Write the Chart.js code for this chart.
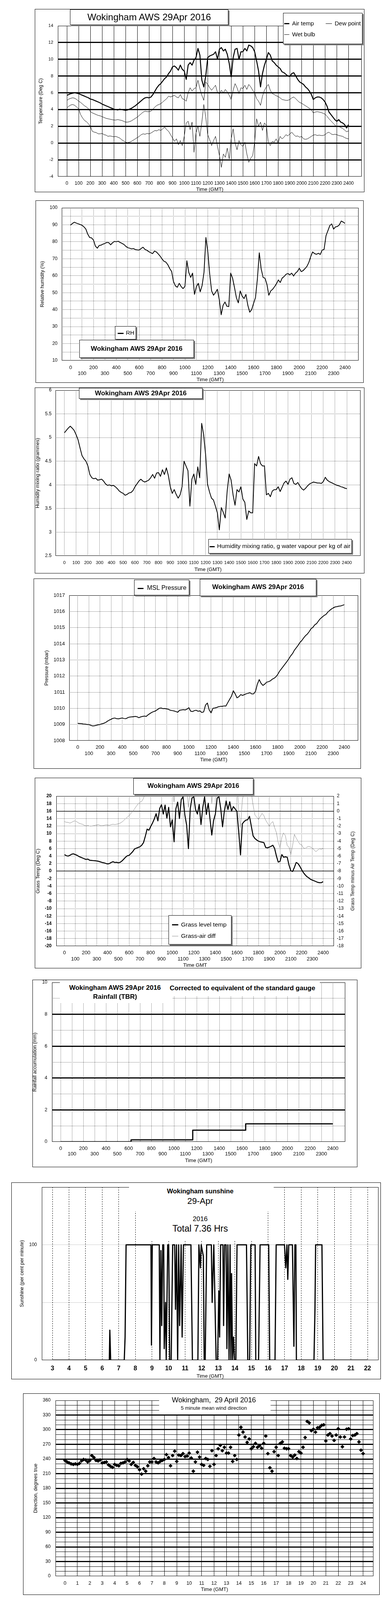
<!DOCTYPE html>
<html>
<head>
<meta charset="utf-8">
<title>Wokingham AWS 29 April 2016</title>
<script src="https://cdn.jsdelivr.net/npm/chart.js@4.4.1/dist/chart.umd.min.js"></script>
<style>
  body { margin: 0; background: #fff; width: 1000px; height: 5000px; position: relative; overflow: hidden;
         font-family: 'Liberation Sans', Arial, sans-serif; }
  .box { position: absolute; box-sizing: border-box; border: 1px solid #000; background: #fff; }
  .box canvas { display: block; }
  .panel { position: absolute; box-sizing: border-box; background: #fff; }
  .panel.framed { border: 1px solid #000; box-shadow: 3px 3px 0 #808080; }
  .note { position: absolute; white-space: pre; color: #000; line-height: 1.15; }
  .swatch { position: absolute; }
</style>
</head>
<body>
<div class="box" id="tempBox"><canvas></canvas></div>
<div class="box" id="rhBox"><canvas></canvas></div>
<div class="box" id="mixBox"><canvas></canvas></div>
<div class="box" id="pressBox"><canvas></canvas></div>
<div class="box" id="grassBox"><canvas></canvas></div>
<div class="box" id="rainBox"><canvas></canvas></div>
<div class="box" id="sunBox"><canvas></canvas></div>
<div class="box" id="dirBox"><canvas></canvas></div>
<div class="box" id="speedBox"><canvas></canvas></div>
<script>
const FONT = "'Liberation Sans', Arial, sans-serif";

// ---- ticks ----
const hhmmTicks = [0, 100, 200, 300, 400, 500, 600, 700, 800, 900, 1000, 1100, 1200,
  1300, 1400, 1500, 1600, 1700, 1800, 1900, 2000, 2100, 2200, 2300, 2400];
const tempTicks = [-4, -2, 0, 2, 4, 6, 8, 10, 12, 14];
const rhTicks = [10, 15, 20, 25, 30, 35, 40, 45, 50, 55, 60, 65, 70, 75, 80, 85, 90, 95, 100];
const mixTicks = [2.5, 3, 3.5, 4, 4.5, 5, 5.5, 6];
const pressTicks = [1008, 1009, 1010, 1011, 1012, 1013, 1014, 1015, 1016, 1017];
const grassTicks = [-20, -18, -16, -14, -12, -10, -8, -6, -4, -2, 0, 2, 4, 6, 8, 10, 12, 14, 16, 18, 20];
const diffTicks = [-18, -17, -16, -15, -14, -13, -12, -11, -10, -9, -8, -7, -6, -5, -4, -3, -2, -1, 0, 1, 2];
const rainTicks = [0, 1, 2, 3, 4, 5, 6, 7, 8, 9, 10];
const sunTicks = [0, 50, 100, 150];
const sunHourTicks = [3, 4, 5, 6, 7, 8, 9, 10, 11, 12, 13, 14, 15, 16, 17, 18, 19, 20, 21, 22];
const dirTicks = [0, 10, 20, 30, 40, 50, 60, 70, 80, 90, 100, 110, 120, 130, 140, 150, 160, 170, 180,
  190, 200, 210, 220, 230, 240, 250, 260, 270, 280, 290, 300, 310, 320, 330, 340, 350, 360];
const dayHourTicks = [0, 1, 2, 3, 4, 5, 6, 7, 8, 9, 10, 11, 12, 13, 14, 15, 16, 17, 18, 19, 20, 21, 22, 23, 24];
const clockLabels = ['00:00', '01:00', '02:00', '03:00', '04:00', '05:00', '06:00', '07:00', '08:00',
  '09:00', '10:00', '11:00', '12:00', '13:00', '14:00', '15:00', '16:00', '17:00', '18:00', '19:00',
  '20:00', '21:00', '22:00', '23:00', ''];
const speedTicks = [0, 5, 10, 15, 20, 25, 30, 35, 40, 45, 50];

// ---- data, 10 minute readings 00:00 .. 24:00 (one row per hour) ----
const airTemp = [
  5.7, 5.8, 5.9, 5.95, 6.0, 5.95,
  5.9, 5.8, 5.7, 5.6, 5.5, 5.4,
  5.25, 5.2, 5.1, 5.0, 4.9, 4.8,
  4.65, 4.55, 4.45, 4.35, 4.25, 4.15,
  4.05, 4.0, 3.95, 4.05, 4.0, 3.95,
  3.9, 3.95, 4.05, 4.15, 4.3, 4.45,
  4.65, 4.85, 5.05, 5.25, 5.4, 5.45,
  5.4, 5.5, 5.8, 6.2, 6.6, 6.9,
  7.1, 7.4, 7.7, 7.9, 8.3, 8.6,
  9.1, 9.2, 9.0, 8.7, 9.3, 8.8,
  8.6, 7.6, 9.3, 9.6, 9.3, 9.9,
  10.2, 11.3, 10.5, 7.5, 6.7, 8.0,
  10.2, 10.4, 10.5, 10.6, 10.9, 10.0,
  11.2, 11.4, 11.0, 11.2, 10.6, 9.5,
  7.9, 10.2, 11.2, 11.3, 10.0, 10.9,
  10.9, 11.3, 11.0, 11.7, 11.6, 11.4,
  10.9, 9.8, 8.6, 6.7, 8.3, 9.3,
  10.0, 10.8, 10.5, 9.8, 9.6, 9.3,
  9.1, 8.9, 8.5, 8.4, 8.2, 8.0,
  7.95, 8.3, 8.4, 8.0, 7.6, 7.3,
  7.15, 7.0, 6.7, 6.5, 6.2, 5.8,
  5.2, 5.4, 5.5, 5.5, 5.4, 5.2,
  4.9, 4.4, 3.7, 3.4, 3.1, 2.8,
  2.6, 2.8, 2.5, 2.4, 2.2, 1.8,
  2.2];
const wetBulb = [
  5.1, 5.25, 5.35, 5.4, 5.35, 5.2,
  5.0, 4.85, 4.65, 4.45, 4.3, 4.1,
  3.75, 3.6, 3.5, 3.4, 3.3, 3.25,
  3.15, 3.05, 2.95, 2.9, 2.85, 2.8,
  2.75, 2.75, 2.8, 2.75, 2.7, 2.6,
  2.5, 2.5, 2.55, 2.65, 2.8, 2.95,
  3.1, 3.3, 3.5, 3.7, 3.8, 3.75,
  3.75, 3.8, 4.05, 4.3, 4.5, 4.6,
  4.7, 4.9, 5.1, 5.3, 5.6, 5.5,
  5.6, 5.7, 5.5, 5.4, 5.8, 5.3,
  5.2, 5.0, 6.0, 6.6, 6.2, 6.5,
  6.6, 7.5, 6.5, 5.7, 5.1, 7.3,
  7.0, 6.6, 6.3, 6.6, 6.9, 6.0,
  5.9, 6.3, 6.0, 6.4, 6.1, 5.7,
  5.2, 6.3, 7.1, 6.6, 5.9, 6.6,
  6.5, 6.9, 6.4, 7.0, 6.7, 6.3,
  6.0, 5.3, 5.0, 4.5, 5.6, 6.3,
  6.7, 7.0, 6.3, 5.9, 5.8, 5.65,
  5.55, 5.4, 5.2, 5.15, 5.1, 5.1,
  5.2, 5.4, 5.5, 5.3, 5.05, 4.85,
  4.75, 4.6, 4.45, 4.3, 4.15, 3.95,
  3.6, 3.7, 3.75, 3.7, 3.65, 3.55,
  3.45, 3.2, 2.9, 2.65, 2.4, 2.15,
  1.95, 2.0, 1.85, 1.75, 1.55, 1.35,
  1.45];
const dewPoint = [
  4.2, 4.4, 4.55, 4.6, 4.5, 4.3,
  4.1, 3.4, 3.0, 2.7, 2.55, 2.3,
  2.0, 1.4, 1.3, 1.25, 1.1, 1.1,
  1.15, 1.0, 0.95, 0.8, 0.85, 0.8,
  0.75, 0.8, 0.7, 0.6, 0.4, 0.25,
  0.1, 0.05, 0.1, 0.2, 0.35, 0.5,
  0.65, 0.8, 1.0, 1.1, 1.05, 1.15,
  1.1, 1.2, 1.35, 1.5, 1.45, 1.6,
  1.5, 1.7, 1.9, 1.6, 1.4, 1.0,
  0.6, 0.2, 0.5, -0.2, 0.3, -0.3,
  0.8, 2.4, 2.6, 1.6, 2.5, -1.1,
  1.2, 2.0, 0.8, 2.5, 4.6, 3.1,
  1.0, 0.4, -0.3, 0.3, 0.8, -0.4,
  -1.5, -2.9, -1.3, -1.7, -0.6, -1.9,
  0.5, 1.7, 0.0, -0.8, 0.3, -0.2,
  -0.4, 0.1, -1.3, -2.3, -1.8, -1.5,
  0.1, 2.9, 2.0, 2.5, 1.5, 2.4,
  2.1, 0.0, -0.3, 0.2, 0.1, 0.5,
  0.0, 0.8, 0.5, 0.7, 1.0, 0.85,
  1.1, 1.3, 1.0, 0.8, 0.85, 0.7,
  0.8, 0.5, 0.45, 0.5, 0.65, 0.8,
  0.95, 1.0, 0.9, 0.95, 0.9, 0.9,
  1.0, 1.2, 1.3, 1.1, 1.0, 1.05,
  1.0, 0.9, 0.85, 0.8, 0.65, 0.55,
  0.5];
const relHumidity = [
  89.8, 90.8, 91.5, 91.0, 90.6, 90.2,
  89.7, 88.8, 87.5, 84.5, 82.5, 82.3,
  81.0, 77.5, 76.2, 77.8, 78.0, 78.6,
  79.0, 79.6, 79.5, 78.2, 79.4, 80.2,
  80.0, 80.3, 79.6, 79.0, 78.4, 77.3,
  76.5, 76.2, 75.8, 76.0, 75.4, 75.2,
  75.1, 76.0, 76.8, 75.5, 75.0, 74.2,
  73.6, 73.0, 74.5, 74.0, 72.8, 71.5,
  69.8, 68.5, 68.0, 66.5, 64.2, 62.5,
  56.5, 54.0, 53.2, 55.5, 53.6, 52.4,
  53.7, 68.8, 62.0, 59.0, 61.5, 49.0,
  53.5, 55.5, 50.5, 54.2, 62.0, 82.5,
  74.0, 60.8, 51.0, 48.5, 50.0, 52.0,
  46.0, 37.0, 42.5, 44.5, 42.0, 41.8,
  61.5, 58.5, 53.0, 47.0, 44.0, 51.0,
  48.0, 46.5, 49.0, 42.5, 38.5, 40.0,
  43.7, 47.0, 58.0, 73.5, 64.0, 59.0,
  58.5, 55.0, 48.5, 51.0, 52.0, 53.5,
  55.2, 57.5, 56.0, 58.6, 59.5, 60.8,
  61.3, 60.5, 61.5, 59.8, 61.5, 62.5,
  64.4, 62.4, 63.0, 64.2, 65.5, 67.8,
  71.3, 74.0, 73.0, 72.6, 73.2, 72.5,
  75.1, 75.5, 83.5, 86.5, 89.5, 90.5,
  87.4, 88.8, 89.0, 90.0, 92.2, 91.6,
  90.8];
const mixingRatio = [
  5.10, 5.15, 5.20, 5.24, 5.20, 5.15,
  5.06, 4.95, 4.78, 4.62, 4.55, 4.50,
  4.40, 4.22, 4.15, 4.13, 4.14, 4.10,
  4.11, 4.12, 4.08, 4.02, 3.99, 4.00,
  3.98, 3.99, 3.96, 3.92, 3.87, 3.84,
  3.82, 3.78, 3.80, 3.83, 3.84, 3.88,
  3.96, 4.02, 4.08, 4.12, 4.08, 4.06,
  4.08, 4.10, 4.15, 4.22, 4.14, 4.25,
  4.26, 4.18, 4.32, 4.22, 4.36, 4.20,
  3.96, 3.82, 3.90, 3.80, 3.72, 3.79,
  3.96, 4.50, 4.40, 4.30, 3.55, 4.12,
  4.23, 4.01, 4.38, 4.15, 5.30, 5.06,
  4.64, 4.01, 3.85, 3.72, 3.68, 3.55,
  3.41, 3.05, 3.52, 3.42, 3.30, 3.87,
  4.23, 4.10, 3.79, 3.57, 3.90, 3.85,
  3.96, 3.70, 3.63, 3.27, 3.45, 3.41,
  3.41, 4.45, 4.40, 4.60, 4.45, 4.40,
  4.40, 3.79, 3.82, 3.75, 3.87, 3.90,
  3.90, 3.96, 3.86, 3.95, 4.04, 4.08,
  4.01, 4.12, 4.15, 4.03, 4.01, 4.05,
  3.98, 3.92, 3.89, 3.93, 3.98, 4.02,
  4.04, 4.06, 4.05, 4.04, 4.04, 4.03,
  4.07, 4.16, 4.10, 4.07, 4.05, 4.03,
  4.01, 3.99, 3.98, 3.96, 3.95, 3.93,
  3.92];
const mslPressure = [
  1009.07, 1009.06, 1009.05, 1009.03, 1009.02, 1009.0,
  1009.0, 1008.95, 1008.91, 1008.92, 1008.95, 1008.98,
  1009.0, 1009.04, 1009.07, 1009.12, 1009.2, 1009.27,
  1009.32, 1009.38, 1009.4, 1009.36, 1009.35, 1009.38,
  1009.4, 1009.37, 1009.36, 1009.42, 1009.46, 1009.47,
  1009.48, 1009.5, 1009.48, 1009.42, 1009.47, 1009.5,
  1009.52, 1009.5, 1009.6, 1009.68, 1009.75, 1009.8,
  1009.84, 1009.92, 1010.0, 1010.02, 1009.98, 1009.99,
  1009.96, 1009.94, 1009.88, 1009.86, 1009.84, 1009.8,
  1009.76, 1009.88, 1009.9, 1009.92, 1009.9, 1009.95,
  1010.04, 1009.82, 1009.8, 1009.86, 1009.88, 1009.82,
  1009.84, 1009.74, 1009.78, 1010.2, 1010.33, 1009.9,
  1009.72, 1010.0, 1010.02, 1010.05, 1010.1, 1010.12,
  1010.12, 1010.15, 1010.14, 1010.35, 1010.55, 1010.75,
  1011.09, 1010.9, 1010.65, 1010.72, 1010.85, 1010.8,
  1010.85, 1010.9, 1010.93, 1010.97, 1010.89, 1010.9,
  1011.05, 1011.5, 1011.78, 1011.55, 1011.42, 1011.5,
  1011.62, 1011.65, 1011.7, 1011.8, 1011.86, 1011.95,
  1012.1, 1012.3, 1012.45, 1012.6, 1012.75, 1012.9,
  1013.07, 1013.25, 1013.39, 1013.6, 1013.75, 1013.9,
  1014.08, 1014.2, 1014.36, 1014.5, 1014.6, 1014.75,
  1014.93, 1015.02, 1015.17, 1015.25, 1015.41, 1015.55,
  1015.65, 1015.75, 1015.81, 1015.95, 1016.06, 1016.15,
  1016.22, 1016.28, 1016.3, 1016.33, 1016.34, 1016.38,
  1016.42];
const grassTemp = [
  4.4, 4.1, 4.0, 4.2, 4.5, 4.6,
  4.4, 4.2, 3.9, 3.7, 3.5, 3.3,
  3.1, 3.2, 2.9, 2.85, 2.8, 2.75,
  2.7, 2.6, 2.45, 2.3, 2.2, 2.05,
  1.9, 2.0, 2.3, 2.5, 2.3, 2.35,
  2.2, 2.35, 2.7, 3.2, 3.7, 4.1,
  4.2, 4.7, 5.2, 5.9, 6.1, 6.3,
  6.5, 6.9, 7.6, 9.3, 11.2, 10.9,
  11.9, 12.8, 13.9, 15.3, 13.4, 16.7,
  17.7, 15.2, 17.6, 14.1, 17.0, 11.8,
  13.7, 7.8, 16.6, 18.4, 14.0, 19.1,
  19.8, 15.0, 12.3, 6.0, 16.6, 19.5,
  19.8, 16.4, 15.2, 17.8, 12.4, 17.0,
  19.8, 15.1, 18.1, 14.0, 9.6, 13.5,
  15.2, 19.5, 19.8, 16.6, 11.8, 16.0,
  18.7, 16.4, 18.5, 16.0, 17.2, 16.6,
  15.9, 10.5, 4.3, 12.6, 13.2, 13.6,
  13.7, 14.6, 12.0, 9.4, 8.7, 8.3,
  8.0, 7.8, 7.7, 7.6, 6.3, 6.2,
  6.4, 6.6, 6.9, 6.0, 4.0, 2.4,
  2.6, 4.4, 3.7, 3.8, 3.7, 1.6,
  0.1, -0.1, 1.0, 2.3, 2.0, 1.3,
  0.4, -0.4, -1.0, -1.5, -1.8, -2.2,
  -2.4, -2.6, -2.8, -3.0, -3.1, -3.1,
  -2.8];
const grassAirDiff = [
  -1.4, -1.5, -1.5, -1.6, -1.5, -1.35,
  -1.3, -1.45, -1.6, -1.7, -1.75, -1.9,
  -1.95, -1.9, -2.0, -2.0, -1.95, -1.9,
  -1.85, -1.8, -1.95, -1.95, -1.9, -1.85,
  -1.85, -1.9, -1.8, -1.75, -1.8, -1.75,
  -1.7, -1.6, -1.45, -1.25, -1.0, -0.8,
  -0.6, -0.3, -0.05, 0.3, 0.65, 0.95,
  1.2, 1.3, 1.7, 2.5, 3.5, 4.5,
  5, 5.5, 6, 6, 6.5, 7,
  7, 6, 7, 5, 6, 3,
  3.5, 1.2, 5, 6, 4, 6,
  7, 5, 3, 0.5, 3, 6,
  7, 5, 4, 6, 3, 7,
  6, 5, 6, 4, 1.0, 4,
  6, 7, 5, 3, 6, 5,
  6, 5, 6, 4, 5, 5,
  4.5, -0.2, -2.2, 1.5, 2.5, 4,
  4, 3, 2.5, 0.8, -0.5, -0.8,
  -1.1, -0.7, -0.3, -0.6, -1.2, -1.6,
  -2.0, -1.6, -1.4, -2.2, -2.9, -4.2,
  -4.9, -3.5, -2.9, -3.3, -4.6, -4.8,
  -5.8, -4.6, -3.1, -3.6, -4.0, -4.4,
  -4.5, -4.9, -5.0, -4.8, -4.7, -4.8,
  -4.9, -5.2, -5.4, -5.2, -5.0, -5.1,
  -4.9];
const windDir = [
  237, 234, 232, 230, 229, 230,
  229, 231, 236, 239, 238, 234,
  237, 247, 243, 237, 236, 238,
  232, 233, 234, 228, 225, 223,
  229, 227, 226, 231, 232, 234,
  239, 236, 229, 233, 227, 224,
  218, 209, 220, 215, 226, 234,
  234, 241, 234, 232, 235, 237,
  239, 249, 243, 226, 247, 256,
  235, 248, 247, 251, 245, 246,
  252, 242, 215, 234, 254, 244,
  229, 227, 241, 239, 225, 257,
  229, 247, 261, 268, 257, 264,
  252, 252, 264, 235, 247, 239,
  289, 305, 295, 285, 274, 281,
  261, 265, 272, 264, 267, 262,
  272, 287, 251, 222, 215, 255,
  264, 247, 272, 275, 262, 261,
  261, 247, 244, 248, 241, 255,
  252, 264, 284, 317, 314, 298,
  301, 295, 304, 305, 309, 310,
  277, 289, 292, 287, 278, 289,
  302, 285, 265, 285, 301, 302,
  281, 288, 289, 292, 275, 258,
  251];
const windMean = [
  7.5, 7.2, 7.0, 7.2, 7.3, 7.4,
  7.5, 8.2, 7.9, 7.6, 7.3, 7.5,
  7.7, 7.3, 7.0, 7.4, 7.5, 7.2,
  6.8, 7.1, 7.3, 6.9, 6.6, 7.0,
  7.5, 7.9, 8.0, 7.8, 7.7, 7.4,
  7.0, 7.3, 7.7, 8.0, 8.2, 8.4,
  8.5, 8.7, 8.9, 9.4, 9.9, 10.0,
  9.9, 10.2, 10.3, 10.0, 10.1, 10.5,
  10.8, 10.3, 10.1, 10.4, 10.3, 11.5,
  12.4, 12.0, 11.7, 12.6, 13.1, 11.5,
  9.9, 12.2, 11.9, 11.7, 11.7, 12.5,
  16.0, 13.0, 11.7, 12.2, 11.3, 8.0,
  13.1, 14.2, 15.0, 13.8, 12.9, 12.6,
  12.7, 13.6, 16.9, 14.8, 13.9, 14.0,
  14.1, 14.3, 9.9, 8.9, 10.8, 10.0,
  9.6, 10.1, 10.3, 11.3, 11.0, 11.4,
  11.7, 13.4, 10.3, 5.2, 4.0, 3.3,
  4.0, 6.6, 8.9, 7.7, 8.0, 8.3,
  8.5, 7.0, 6.5, 5.6, 5.2, 5.0,
  4.0, 4.1, 4.2, 4.6, 4.9, 5.0,
  5.2, 5.0, 4.9, 4.4, 4.0, 3.5,
  2.8, 3.2, 3.5, 3.7, 4.0, 4.1,
  4.2, 3.0, 1.9, 2.1, 2.3, 2.5,
  2.6, 2.7, 2.8, 2.7, 2.6, 2.3,
  1.9];
const windGust = [
  11.0, 8.5, 12.0, 9.5, 12.5, 10.0,
  13.5, 9.0, 11.5, 8.5, 12.0, 9.5,
  13.0, 9.0, 11.0, 8.5, 12.5, 9.0,
  11.5, 8.5, 12.0, 9.0, 10.5, 8.5,
  13.0, 10.0, 14.0, 10.5, 12.0, 9.5,
  11.0, 14.5, 10.0, 15.0, 11.5, 14.0,
  12.0, 16.0, 12.5, 17.0, 11.5, 19.0,
  13.0, 16.5, 12.0, 17.5, 13.5, 15.0,
  21.0, 13.5, 17.0, 14.0, 21.5, 15.0,
  23.0, 16.5, 20.5, 15.0, 22.0, 17.0,
  19.0, 14.5, 21.5, 17.0, 28.0, 16.0,
  23.0, 17.5, 25.0, 18.0, 21.0, 13.0,
  33.5, 19.0, 26.0, 17.5, 24.0, 18.0,
  22.0, 30.0, 19.5, 25.5, 17.0, 26.0,
  19.0, 24.0, 15.0, 18.5, 13.5, 20.0,
  16.0, 22.0, 14.0, 21.0, 15.5, 22.5,
  16.5, 24.5, 14.0, 8.0, 5.5, 7.0,
  10.0, 16.0, 11.5, 15.5, 10.5, 12.5,
  14.5, 10.0, 11.5, 8.5, 10.0, 7.5,
  9.5, 6.0, 10.0, 6.5, 9.5, 7.0,
  10.5, 6.0, 11.0, 7.5, 9.0, 5.5,
  7.0, 4.0, 8.0, 5.0, 8.5, 6.0,
  7.0, 3.0, 5.5, 3.5, 5.0, 3.0,
  4.5, 3.0, 5.5, 3.5, 4.0, 2.5,
  3.0];

// rainfall accumulation (time as hhmm on a linear hour scale)
const rainTimes = [0, 621, 1165, 1632, 2400];
const rainTotals = [0, 0.12, 0.73, 1.13, 1.13];

// sunshine, per cent per minute, at hours GMT
const sunHours = [3.00, 6.43, 6.46, 6.51, 7.33, 7.38, 7.44, 8.94, 8.97, 9.02, 9.44, 9.48, 9.54, 9.59,
  9.65, 9.71, 9.74, 9.82, 9.86, 9.95, 10.01, 10.07, 10.16, 10.25, 10.37, 10.42, 10.48, 10.55, 10.61,
  10.67, 10.76, 10.82, 10.90, 11.35, 11.44, 11.77, 11.83, 11.92, 11.97, 12.10, 12.15, 12.21, 12.30,
  12.58, 12.63, 12.73, 12.87, 12.96, 13.03, 13.08, 13.14, 13.28, 13.32, 13.38, 13.47, 13.52, 13.58,
  13.65, 13.71, 13.76, 13.80, 13.86, 13.92, 13.98, 14.06, 14.13, 14.70, 14.78, 14.89, 14.96, 15.22,
  15.26, 15.43, 15.52, 16.04, 16.10, 16.42, 16.49, 16.99, 17.07, 17.14, 17.19, 17.25, 17.47, 17.56,
  17.62, 17.68, 17.71, 18.77, 18.83, 18.87, 19.25, 19.32, 22.00];
const sunValues = [0, 0, 26, 0, 0, 20, 100, 100, 13, 100, 100, 0, 95, 30,
  100, 100, 10, 50, 0, 100, 100, 0, 0, 100, 100, 44, 100, 0, 100,
  30, 100, 20, 100, 100, 0, 0, 100, 80, 100, 90, 0, 0, 100,
  100, 50, 100, 0, 0, 60, 20, 100, 100, 30, 100, 100, 10, 100,
  0, 100, 0, 75, 0, 20, 0, 0, 100, 100, 0, 0, 100, 100,
  0, 0, 100, 100, 0, 0, 100, 100, 80, 100, 70, 100, 100, 12,
  100, 100, 0, 0, 45, 100, 100, 0, 0];

// speeds below 4 kt plotted x10
const lowSpeedHours = [16.76, 16.78, 16.80, 16.78, 16.81, 16.80, 16.93, 16.95, 16.96, 16.94, 16.92, 16.95,
  19.26, 19.28, 19.30, 19.27, 19.37, 19.39, 19.40, 19.36, 19.86, 19.88, 19.90, 19.87,
  19.98, 20.00, 20.02, 19.99, 20.74, 20.78, 20.85, 20.87, 20.86, 20.88,
  20.98, 21.00, 21.02, 20.99, 21.01, 21.03, 21.11, 21.13, 21.15, 21.12,
  21.27, 21.29, 21.31, 21.30, 21.43, 21.45, 21.47, 21.57, 21.59, 21.61, 21.58,
  21.72, 21.74, 21.76, 21.96, 21.98, 22.00, 22.05, 22.07, 22.09, 22.06,
  22.17, 22.19, 22.21, 22.18, 22.29, 22.31, 22.33, 22.30, 22.45, 22.47, 22.49, 22.46,
  22.60, 22.62, 22.64, 22.61, 22.76, 22.78, 22.80, 22.77, 22.92, 22.94, 22.96, 22.93,
  23.07, 23.09, 23.11, 23.08, 23.23, 23.25, 23.27, 23.24, 23.39, 23.41, 23.43, 23.40,
  23.54, 23.56, 23.58, 23.55, 23.66, 23.68, 23.70, 23.67, 23.78, 23.80, 23.82, 23.79,
  23.93, 23.95];
const lowSpeedValues = [38.5, 37.0, 35.0, 34.5, 33.0, 32.0, 39.8, 38.5, 35.5, 34.0, 33.0, 32.5,
  38.0, 37.5, 35.5, 34.5, 39.5, 38.5, 36.0, 35.0, 38.5, 37.0, 35.5, 34.5,
  39.2, 37.5, 36.5, 35.0, 39.8, 39.0, 37.5, 36.5, 35.5, 34.5,
  32.5, 29.0, 28.0, 26.5, 25.5, 24.5, 30.5, 29.5, 28.0, 27.0,
  30.5, 29.0, 28.5, 30.0, 33.0, 35.0, 36.5, 35.5, 34.0, 36.8, 33.5,
  36.0, 38.5, 34.5, 38.8, 37.5, 36.0, 35.5, 33.5, 32.0, 30.5,
  29.0, 27.0, 25.5, 23.5, 22.0, 20.0, 17.0, 16.0, 19.5, 18.0, 21.0, 23.0,
  22.0, 24.0, 25.0, 22.5, 23.5, 21.0, 20.5, 22.0, 24.5, 23.5, 25.5, 21.0,
  26.5, 27.5, 28.0, 25.5, 26.0, 27.0, 24.5, 25.0, 27.0, 28.0, 26.0, 25.5,
  30.0, 28.5, 27.0, 27.5, 26.5, 25.0, 24.0, 23.0, 22.5, 21.0, 20.0, 19.5,
  18.5, 18.0];

// x positions of the 10 minute readings
const tenMinHhmm = airTemp.map((_, i) => i * 100 / 6);
const tenMinHours = airTemp.map((_, i) => i / 6);
const pts = (xs, ys) => ys.map((y, i) => ({ x: xs[i], y }));

// ---- helpers ----
const framePlugin = {
  id: 'frame',
  afterDatasetsDraw(chart) {
    const { ctx, chartArea: a } = chart;
    ctx.save();
    ctx.strokeStyle = '#000';
    ctx.lineWidth = 1;
    ctx.strokeRect(Math.round(a.left) + 0.5, Math.round(a.top) + 0.5,
      Math.round(a.right - a.left) - 1, Math.round(a.bottom - a.top) - 1);
    ctx.restore();
  }
};

function axis(o) {
  const tsize = o.tsize || 13;
  return {
    type: 'linear',
    position: o.pos,
    min: o.min,
    max: o.max,
    bounds: 'data',
    afterBuildTicks: s => { s.ticks = o.ticks.map(v => ({ value: v })); },
    afterFit: s => {
      if (s.isHorizontal()) s.height = o.size; else s.width = o.size;
      s.paddingTop = 0; s.paddingBottom = 0; s.paddingLeft = 0; s.paddingRight = 0;
    },
    grid: { display: o.grid !== false, drawTicks: false, color: o.color || '#000', lineWidth: o.width || 1 },
    border: { display: false, dash: o.dash || [] },
    ticks: {
      autoSkip: false, maxRotation: 0, minRotation: 0, padding: o.pad, color: '#000',
      font: { family: FONT, size: o.font, weight: o.bold ? 'bold' : 'normal', lineHeight: o.lh || 1.2 },
      callback: o.label || (v => String(v))
    },
    title: o.title ? {
      display: true, text: o.title, color: '#000',
      font: { family: FONT, size: tsize, lineHeight: 1 },
      padding: o.tat - tsize / 2
    } : { display: false }
  };
}

function makeChart(id, box, plot, rightAxis, scales, datasets) {
  const wrap = document.getElementById(id);
  wrap.style.left = box[0] + 'px';
  wrap.style.top = box[1] + 'px';
  wrap.style.width = (box[2] - box[0]) + 'px';
  wrap.style.height = (box[3] - box[1]) + 'px';
  const cv = wrap.querySelector('canvas');
  cv.width = box[2] - box[0] - 2;
  cv.height = box[3] - box[1] - 2;
  return new Chart(cv, {
    type: 'line',
    data: { datasets },
    options: {
      responsive: false,
      animation: false,
      devicePixelRatio: 1,
      layout: { padding: { top: plot[1] - box[1] - 1, right: rightAxis ? 0 : box[2] - 1 - plot[2], left: 0, bottom: 0 } },
      plugins: { legend: { display: false }, tooltip: { enabled: false }, title: { display: false } },
      elements: { point: { radius: 0 }, line: { tension: 0, borderJoinStyle: 'round' } },
      scales
    },
    plugins: [framePlugin]
  });
}

const twoRow = (v, i) => (i % 2 ? ['', String(v)] : String(v));
const inside = (lo, hi, w) => c => (c.tick.value > lo && c.tick.value < hi ? w : 0);
const DOT = [1, 2];

// ---- 1: temperatures ----
{
  const box = [89, 23, 932, 492], plot = [148, 66, 925, 452];
  makeChart('tempBox', box, plot, false, {
    x: axis({ pos: 'bottom', min: -77, max: 2512, ticks: hhmmTicks, size: box[3] - 1 - plot[3],
      font: 12, pad: 10, title: 'Time (GMT)', tat: 6 }),
    y: axis({ pos: 'left', min: -4, max: 14, ticks: tempTicks, size: plot[0] - box[0] - 1,
      font: 11, pad: 12, width: inside(-4, 14, 3), title: 'Temperature (Deg C)', tsize: 12.5, tat: 15 })
  }, [
    { data: pts(tenMinHhmm, dewPoint), borderColor: '#000', borderWidth: 1 },
    { data: pts(tenMinHhmm, wetBulb), borderColor: '#000', borderWidth: 1 },
    { data: pts(tenMinHhmm, airTemp), borderColor: '#000', borderWidth: 2.5 }
  ]);
}

// ---- 2: relative humidity ----
{
  const box = [91, 513, 930, 980], plot = [158, 532, 917, 923];
  makeChart('rhBox', box, plot, false, {
    x: axis({ pos: 'bottom', min: -77, max: 2518, ticks: hhmmTicks, size: box[3] - 1 - plot[3],
      font: 13, lh: 1.15, pad: 10.5, dash: DOT, label: twoRow, title: 'Time (GMT)', tat: 7 }),
    y: axis({ pos: 'left', min: 10, max: 100, ticks: rhTicks, size: plot[0] - box[0] - 1,
      font: 12, pad: 11, dash: DOT, width: inside(10, 100, 1), label: v => (v % 10 === 0 ? String(v) : ''),
      title: 'Relative humidity (%)', tsize: 12.5, tat: 17 })
  }, [
    { data: pts(tenMinHhmm, relHumidity), borderColor: '#000', borderWidth: 2 }
  ]);
}

// ---- 3: humidity mixing ratio ----
{
  const box = [89, 992, 932, 1468], plot = [142, 999, 922, 1423];
  makeChart('mixBox', box, plot, false, {
    x: axis({ pos: 'bottom', min: -75, max: 2516, ticks: hhmmTicks, size: box[3] - 1 - plot[3],
      font: 11.5, pad: 11, dash: DOT, title: 'Time (GMT)', tat: 9 }),
    y: axis({ pos: 'left', min: 2.5, max: 6, ticks: mixTicks, size: plot[0] - box[0] - 1,
      font: 12, pad: 10, dash: DOT, width: inside(2.5, 6, 1),
      title: 'Humidity mixing ratio (grammes)', tsize: 12.5, tat: 7 })
  }, [
    { data: pts(tenMinHhmm, mixingRatio), borderColor: '#000', borderWidth: 2 }
  ]);
}

// ---- 4: pressure ----
{
  const box = [86, 1481, 923, 1968], plot = [177, 1524, 916, 1896];
  makeChart('pressBox', box, plot, false, {
    x: axis({ pos: 'bottom', min: -77, max: 2524, ticks: hhmmTicks, size: box[3] - 1 - plot[3],
      font: 13, lh: 1.23, pad: 9, dash: DOT, label: twoRow, title: 'Time (GMT)', tat: 22 }),
    y: axis({ pos: 'left', min: 1008, max: 1017, ticks: pressTicks, size: plot[0] - box[0] - 1,
      font: 13, pad: 11, dash: DOT, width: inside(1008, 1017, 1),
      title: 'Pressure (mbar)', tsize: 12.5, tat: 33 })
  }, [
    { data: pts(tenMinHhmm, mslPressure), borderColor: '#000', borderWidth: 2 }
  ]);
}

// ---- 5: grass temperature ----
{
  const box = [89, 1991, 924, 2479], plot = [144, 2038, 854, 2422];
  makeChart('grassBox', box, plot, true, {
    x: axis({ pos: 'bottom', min: -76, max: 2500, ticks: hhmmTicks, size: box[3] - 1 - plot[3],
      font: 13, lh: 1.23, pad: 9, dash: DOT, label: twoRow, title: 'Time GMT', tat: 7 }),
    y: axis({ pos: 'left', min: -20, max: 20, ticks: grassTicks, size: plot[0] - box[0] - 1,
      font: 12, bold: true, pad: 12,
      dash: c => (c.tick.value === 16 || c.tick.value === 0 ? [] : DOT),
      width: c => (c.tick.value === 16 || c.tick.value === 0 ? 1.5 : (Math.abs(c.tick.value) < 20 ? 1 : 0)),
      title: 'Grass Temp (Deg C)', tsize: 12.5, tat: 8 }),
    y2: axis({ pos: 'right', min: -18, max: 2, ticks: diffTicks, size: box[2] - 1 - plot[2],
      font: 12, pad: 7.5, grid: false })
  }, [
    { data: pts(tenMinHhmm, grassAirDiff), yAxisID: 'y2', borderColor: '#8c8c8c', borderWidth: 1 },
    { data: pts(tenMinHhmm, grassTemp), yAxisID: 'y', borderColor: '#000', borderWidth: 2.5 }
  ]);
}

// ---- 6: rainfall ----
{
  const box = [83, 2508, 914, 2988], plot = [133, 2515, 883, 2923];
  makeChart('rainBox', box, plot, false, {
    x: axis({ pos: 'bottom', min: -76, max: 2510, ticks: hhmmTicks, size: box[3] - 1 - plot[3],
      font: 13, lh: 1.08, pad: 10, dash: DOT, label: twoRow, title: 'Time (GMT)', tat: 16 }),
    y: axis({ pos: 'left', min: 0, max: 10, ticks: rainTicks, size: plot[0] - box[0] - 1,
      font: 12, pad: 12,
      dash: c => (c.tick.value % 2 ? DOT : []),
      width: c => (c.tick.value <= 0 || c.tick.value >= 10 ? 0 : (c.tick.value % 2 ? 1 : 3)),
      label: v => (v % 2 === 0 ? String(v) : ''),
      title: 'Rainfall accumulation (mm)', tsize: 12.5, tat: 6 })
  }, [
    { data: pts(rainTimes, rainTotals), borderColor: '#000', borderWidth: 3, stepped: 'before' }
  ]);
}

// ---- 7: sunshine ----
{
  const box = [29, 3027, 974, 3531], plot = [107, 3039, 968, 3482];
  makeChart('sunBox', box, plot, false, {
    x: axis({ pos: 'bottom', min: 2.36, max: 22.66, ticks: sunHourTicks, size: box[3] - 1 - plot[3],
      font: 16, bold: true, pad: 12, dash: [3, 3], title: 'Time (GMT)', tat: 7 }),
    y: axis({ pos: 'left', min: 0, max: 150, ticks: sunTicks, size: plot[0] - box[0] - 1,
      font: 12, pad: 12.5, color: '#9a9a9a', dash: [1, 1], width: inside(0, 150, 1),
      label: v => (v === 0 || v === 100 ? String(v) : ''),
      title: 'Sunshine (per cent per minute)', tsize: 12.5, tat: 26.5 })
  }, [
    { data: pts(sunHours, sunValues), borderColor: '#000', borderWidth: 3 }
  ]);
}

// ---- 8: wind direction ----
{
  const box = [59, 3567, 971, 4083], plot = [142, 3585, 955, 4035];
  makeChart('dirBox', box, plot, false, {
    x: axis({ pos: 'bottom', min: -0.76, max: 24.83, ticks: dayHourTicks, size: box[3] - 1 - plot[3],
      font: 12.5, pad: 11, title: 'Time (GMT)', tat: 13 }),
    y: axis({ pos: 'left', min: 0, max: 360, ticks: dirTicks, size: plot[0] - box[0] - 1,
      font: 12, pad: 12.5,
      width: c => (c.tick.value <= 0 || c.tick.value >= 360 ? 0 : (c.tick.value % 30 ? 1 : 3)),
      label: v => (v % 30 === 0 ? String(v) : ''),
      title: 'Direction, degrees true', tsize: 12.5, tat: 31.5 })
  }, [
    { data: pts(tenMinHours, windDir), showLine: false, pointStyle: 'rectRot', pointRadius: 4.5,
      pointBackgroundColor: '#000', pointBorderColor: '#000', pointBorderWidth: 1 }
  ]);
}

// ---- 9: wind speed ----
{
  const box = [61, 4103, 973, 4598], plot = [119, 4146, 968, 4526];
  makeChart('speedBox', box, plot, false, {
    x: axis({ pos: 'bottom', min: -0.70, max: 25.35, ticks: dayHourTicks, size: box[3] - 1 - plot[3],
      font: 12, lh: 1.17, pad: 11, dash: DOT,
      label: (v, i) => (i % 2 ? ['', clockLabels[i]] : clockLabels[i]), title: 'Time (GMT)', tat: 22 }),
    y: axis({ pos: 'left', min: 0, max: 50, ticks: speedTicks, size: plot[0] - box[0] - 1,
      font: 12, pad: 14, dash: DOT, width: inside(0, 50, 1),
      label: v => (v % 10 === 0 ? String(v) : ''),
      title: 'Speed (knots)', tsize: 12.5, tat: 12 })
  }, [
    { data: pts(tenMinHours, windGust), borderColor: '#555', borderWidth: 1 },
    { data: pts(tenMinHours, windMean), borderColor: '#000', borderWidth: 2.5 },
    { data: pts(lowSpeedHours, lowSpeedValues), showLine: false, pointStyle: 'rectRot', pointRadius: 5,
      pointBackgroundColor: '#c4c4c4', pointBorderColor: '#404040', pointBorderWidth: 1 }
  ]);
}

// ---- overlays: title boxes, legends, masks ----
function panel(l, t, r, b, framed) {
  const d = document.createElement('div');
  d.className = 'panel' + (framed ? ' framed' : '');
  d.style.left = l + 'px'; d.style.top = t + 'px';
  d.style.width = (r - l) + 'px'; d.style.height = (b - t) + 'px';
  document.body.appendChild(d);
}
function note(text, x, cy, size, opt = {}) {
  const d = document.createElement('div');
  d.className = 'note';
  d.textContent = text;
  d.style.font = (opt.bold ? 'bold ' : '') + size + 'px ' + FONT;
  d.style.lineHeight = '1.15';
  d.style.left = x + 'px'; d.style.top = cy + 'px';
  d.style.transform = (opt.left ? 'translate(0,-50%)' : 'translate(-50%,-50%)') + (opt.rotate ? ' rotate(-90deg)' : '');
  document.body.appendChild(d);
}
function swatch(x1, x2, cy, h, color) {
  const d = document.createElement('div');
  d.className = 'swatch';
  d.style.left = x1 + 'px'; d.style.top = (cy - h / 2) + 'px';
  d.style.width = (x2 - x1) + 'px'; d.style.height = h + 'px';
  d.style.background = color;
  document.body.appendChild(d);
}
function diamond(cx, cy, s) {
  const d = document.createElement('div');
  d.className = 'swatch';
  d.style.left = (cx - s / 2) + 'px'; d.style.top = (cy - s / 2) + 'px';
  d.style.width = s + 'px'; d.style.height = s + 'px';
  d.style.background = '#c4c4c4'; d.style.border = '1px solid #404040';
  d.style.boxSizing = 'border-box'; d.style.transform = 'rotate(45deg)';
  document.body.appendChild(d);
}

const stationTitle = 'Wokingham AWS 29Apr 2016';

// 1
panel(179, 24, 584, 64, true);
note(stationTitle, 381.5, 44, 24);
panel(724, 33, 927, 113, true);
swatch(727, 740, 60, 3, '#000'); note('Air temp', 747, 60, 15, { left: true });
swatch(833, 849, 60, 1, '#000'); note('Dew point', 856, 60, 15, { left: true });
swatch(727, 740, 88, 1, '#000'); note('Wet bulb', 747, 88, 15, { left: true });
// 2
panel(294, 835, 348, 869, true);
swatch(301, 316, 853, 3, '#000'); note('RH', 322, 852, 15, { left: true });
panel(203, 870, 496, 916, true);
note(stationTitle, 349.5, 893, 17, { bold: true });
// 3
panel(202, 993, 518, 1021, true);
note(stationTitle, 360, 1007, 17, { bold: true });
panel(533, 1380, 900, 1417, true);
swatch(536, 549, 1399, 3, '#000');
note('Humidity mixing ratio, g water vapour per kg of air', 555, 1398, 15.5, { left: true });
// 4
panel(343, 1484, 484, 1524, true);
swatch(352, 367, 1506, 3, '#000'); note('MSL Pressure', 376, 1505, 16, { left: true });
panel(511, 1482, 809, 1526, true);
note(stationTitle, 660, 1503, 17, { bold: true });
// 5
panel(341, 1992, 648, 2034, true);
note(stationTitle, 494.5, 2012, 17, { bold: true });
panel(431, 2343, 592, 2418, true);
swatch(440, 456, 2367, 3, '#000'); note('Grass level temp', 463, 2367, 15.5, { left: true });
swatch(440, 456, 2396, 1, '#8c8c8c'); note('Grass-air diff', 463, 2396, 15.5, { left: true });
note('Grass Temp minus Air Temp (Deg C)', 902, 2230, 12.5, { rotate: true });
// 6
panel(153, 2511, 440, 2569, false);
panel(440, 2511, 818, 2550, false);
note(stationTitle, 177, 2529, 17, { bold: true, left: true });
note('Corrected to equivalent of the standard gauge', 434, 2530, 17, { bold: true, left: true });
note('Rainfall (TBR)', 238, 2552, 17, { bold: true, left: true });
// 7
panel(330, 3030, 700, 3101, false);
panel(352, 3101, 680, 3176, false);
note('Wokingham sunshine', 512, 3049, 16.5, { bold: true });
note('29-Apr', 512, 3075, 22);
note('2016', 512, 3121, 17);
note('Total 7.36 Hrs', 512, 3145, 23);
// 8
panel(407, 3575, 692, 3621, false);
note('Wokingham,  29 April 2016', 547, 3584, 18);
note('5 minute mean wind direction', 547, 3605, 13);
// 9
note('Wokingham,  29 April 2016', 289, 4125, 17, { bold: true });
note('Wind speed, 10 min mean / max gust', 597, 4116, 13);
note('Speeds below 4 kt shown at x10 scale', 597, 4133, 13);
panel(748, 4109, 968, 4134, true);
swatch(780, 791, 4122, 3, '#000'); note('Speed x 1', 798, 4122, 10.5, { left: true });
diamond(872, 4122, 7); note('Speed / 10', 883, 4122, 10.5, { left: true });
</script>
</body>
</html>
